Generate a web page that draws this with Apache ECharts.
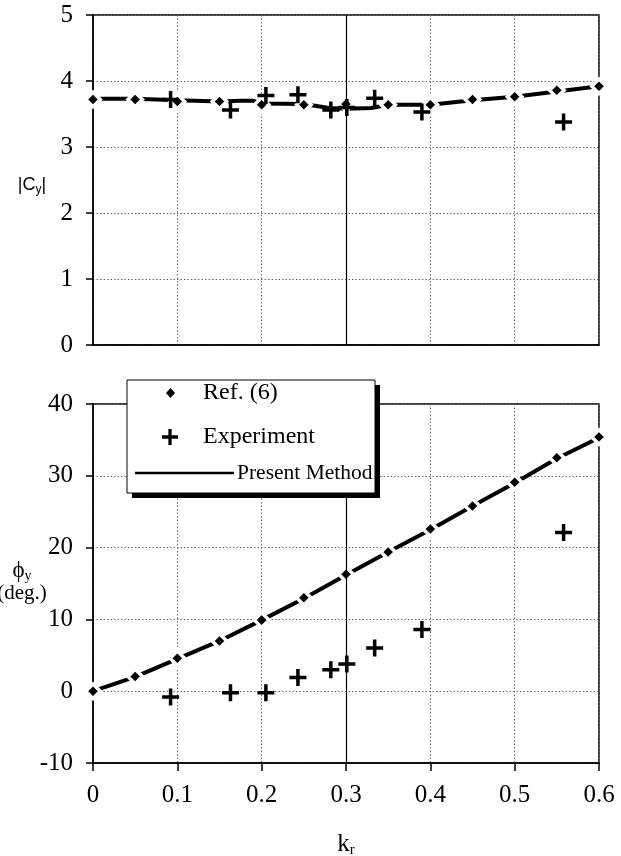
<!DOCTYPE html>
<html><head><meta charset="utf-8">
<script src="https://cdn.jsdelivr.net/npm/echarts@6/dist/echarts.min.js"></script>
<style>html,body{margin:0;padding:0;background:#fff}#c{width:621px;height:856px}</style>
</head><body><div id="c"></div>
<script>
// ---- data ----
const refX    = [0, 0.05, 0.1, 0.15, 0.2, 0.25, 0.3, 0.35, 0.4, 0.45, 0.5, 0.55, 0.6];
const refCy   = [3.72, 3.72, 3.69, 3.69, 3.64, 3.64, 3.65, 3.64, 3.64, 3.72, 3.76, 3.86, 3.92];
const refPhi  = [0, 2.05, 4.6, 7.0, 9.9, 13.0, 16.3, 19.4, 22.6, 25.8, 29.1, 32.5, 35.4];
const expX    = [0.092, 0.163, 0.205, 0.243, 0.282, 0.301, 0.334, 0.39, 0.558];
const expCy   = [3.72, 3.56, 3.78, 3.79, 3.56, 3.60, 3.74, 3.53, 3.38];
const expPhi  = [-0.8, -0.2, -0.2, 1.9, 3.0, 3.8, 6.0, 8.6, 22.1];
const presCyX = [0, 0.05, 0.1, 0.15, 0.175, 0.19, 0.2, 0.25, 0.28, 0.3, 0.33, 0.35, 0.4, 0.45, 0.5, 0.55, 0.6];
const presCy  = [3.73, 3.73, 3.71, 3.69, 3.70, 3.70, 3.66, 3.65, 3.59, 3.58, 3.59, 3.64, 3.64, 3.71, 3.76, 3.84, 3.92];
const presPhiX = [0, 0.05, 0.1, 0.15, 0.2, 0.25, 0.3, 0.35, 0.4, 0.45, 0.5, 0.55, 0.6];
const presPhi  = [0, 2.0, 4.5, 7.0, 9.9, 12.9, 16.2, 19.4, 22.5, 25.8, 29.0, 32.4, 35.3];
const xTickLabels   = ['0', '0.1', '0.2', '0.3', '0.4', '0.5', '0.6'];
const cyTickLabels  = ['0', '1', '2', '3', '4', '5'];
const phiTickLabels = ['-10', '0', '10', '20', '30', '40'];

// ---- chart ----
const serif = '"Liberation Serif", "Times New Roman", serif';
const plusPath = 'path://M6.75,0H10.25V6.75H17V10.25H10.25V17H6.75V10.25H0V6.75H6.75Z';
const pairs = (xs, ys) => xs.map((x, i) => [x, ys[i]]);
const split = { show: true, lineStyle: { color: '#666', type: [1.5, 2], width: 1 } };
const axLine = { onZero: false, lineStyle: { color: '#000', width: 1.5 } };
const tickLab = { fontFamily: serif, fontSize: 25, color: '#000' };

const chart = echarts.init(document.getElementById('c'), null, { renderer: 'canvas' });
const refStyle = { color: '#000', borderColor: '#fff', borderWidth: 3.5, opacity: 1 };
const plusStyle = { color: '#000', opacity: 1 };
const solidMark = { silent: true, symbol: 'none', label: { show: false },
  lineStyle: { color: '#000', type: 'solid', width: 1.2 }, data: [{ xAxis: 0.3 }] };

chart.setOption({
  animation: false,
  backgroundColor: '#fff',
  grid: [
    { left: 93, top: 15, width: 506, height: 330, show: true, borderColor: '#000', borderWidth: 1.5,
      containLabel: false, outerBoundsMode: 'none' },
    { left: 93, top: 404, width: 506, height: 359, show: true, borderColor: '#000', borderWidth: 1.5,
      containLabel: false, outerBoundsMode: 'none' }
  ],
  xAxis: [
    { gridIndex: 0, type: 'value', min: 0, max: 0.6, interval: 0.1, axisLine: axLine,
      axisTick: { show: false }, axisLabel: { show: false }, splitLine: split },
    { gridIndex: 1, type: 'value', min: 0, max: 0.6, interval: 0.1, axisLine: axLine,
      axisTick: { show: true, inside: false, length: 8, lineStyle: { color: '#000', width: 1.5 } },
      axisLabel: Object.assign({ margin: 20, formatter: (v, i) => xTickLabels[i] }, tickLab),
      splitLine: split, nameMoveOverlap: false,
      name: '{k|k}{r|r}', nameLocation: 'middle', nameGap: 68,
      nameTextStyle: { rich: {
        k: { fontFamily: serif, fontSize: 25, color: '#000' },
        r: { fontFamily: serif, fontSize: 15, color: '#000', padding: [12, 0, 0, 0] } } } }
  ],
  yAxis: [
    { gridIndex: 0, type: 'value', min: 0, max: 5, interval: 1, axisLine: axLine,
      axisTick: { show: true, length: 7, lineStyle: { color: '#000', width: 1.5 } },
      axisLabel: Object.assign({ margin: 20, formatter: (v, i) => cyTickLabels[i] }, tickLab),
      splitLine: split, nameMoveOverlap: false,
      name: '{a||C}{s|y}{a||}', nameLocation: 'middle', nameRotate: 0, nameGap: 61,
      nameTextStyle: { align: 'center', padding: [10, 0, 0, 0], rich: {
        a: { fontFamily: '"Liberation Sans", Arial, sans-serif', fontSize: 18, color: '#000' },
        s: { fontFamily: '"Liberation Sans", Arial, sans-serif', fontSize: 12, color: '#000', padding: [9, 0, 0, 0] } } } },
    { gridIndex: 1, type: 'value', min: -10, max: 40, interval: 10, axisLine: axLine,
      axisTick: { show: true, length: 7, lineStyle: { color: '#000', width: 1.5 } },
      axisLabel: Object.assign({ margin: 20, formatter: (v, i) => phiTickLabels[i] }, tickLab),
      splitLine: split, nameMoveOverlap: false,
      name: '{p|ϕ}{s|y}\n{d|(deg.)}', nameLocation: 'middle', nameRotate: 0, nameGap: 71,
      nameTextStyle: { align: 'center', padding: [0, 0, 4, 0], rich: {
        p: { fontFamily: serif, fontSize: 23, color: '#000' },
        s: { fontFamily: serif, fontSize: 14, color: '#000', padding: [10, 0, 0, 0] },
        d: { fontFamily: serif, fontSize: 21, color: '#000' } } } }
  ],
  legend: [
    { data: [{ name: 'Ref. (6)', icon: 'diamond' }], left: 166, top: 381, orient: 'vertical',
      itemWidth: 9, itemHeight: 10, padding: 0, selectedMode: false, z: 60,
      itemStyle: { borderWidth: 0, color: '#000' },
      textStyle: { fontFamily: serif, fontSize: 24, color: '#000', padding: [0, 0, 0, 23] } },
    { data: [{ name: 'Experiment', icon: plusPath }], left: 162, top: 425, orient: 'vertical',
      itemWidth: 16, itemHeight: 16, padding: 0, selectedMode: false, z: 60,
      itemStyle: { borderWidth: 0, color: '#000' },
      textStyle: { fontFamily: serif, fontSize: 24, color: '#000', padding: [0, 0, 0, 20] } },
    { data: [{ name: 'Present Method', icon: 'rect' }], left: 135, top: 462, orient: 'vertical',
      itemWidth: 99, itemHeight: 2.5, padding: 0, selectedMode: false, z: 60,
      itemStyle: { borderWidth: 0, color: '#000' },
      textStyle: { fontFamily: serif, fontSize: 21.5, color: '#000', padding: [0, 0, 0, -2] } }
  ],
  graphic: [
    { type: 'rect', z: 50, shape: { x: 132, y: 385, width: 248, height: 113 }, style: { fill: '#000' } },
    { type: 'rect', z: 51, shape: { x: 127, y: 380, width: 248, height: 113 },
      style: { fill: '#fff', stroke: '#000', lineWidth: 1 } }
  ],
  series: [
    { name: 'Present Method', type: 'line', xAxisIndex: 0, yAxisIndex: 0, z: 2,
      data: pairs(presCyX, presCy), symbol: 'none', lineStyle: { color: '#000', width: 4 },
      markLine: solidMark },
    { name: 'Ref. (6)', type: 'scatter', xAxisIndex: 0, yAxisIndex: 0, z: 3,
      data: pairs(refX, refCy), symbol: 'diamond', symbolSize: 14.5, itemStyle: refStyle },
    { name: 'Experiment', type: 'scatter', xAxisIndex: 0, yAxisIndex: 0, z: 4,
      data: pairs(expX, expCy), symbol: plusPath, symbolSize: 17, itemStyle: plusStyle },
    { name: 'Present Method', type: 'line', xAxisIndex: 1, yAxisIndex: 1, z: 2,
      data: pairs(presPhiX, presPhi), symbol: 'none', lineStyle: { color: '#000', width: 4 },
      markLine: solidMark },
    { name: 'Ref. (6)', type: 'scatter', xAxisIndex: 1, yAxisIndex: 1, z: 3,
      data: pairs(refX, refPhi), symbol: 'diamond', symbolSize: 14.5, itemStyle: refStyle },
    { name: 'Experiment', type: 'scatter', xAxisIndex: 1, yAxisIndex: 1, z: 4,
      data: pairs(expX, expPhi), symbol: plusPath, symbolSize: 17, itemStyle: plusStyle }
  ]
});
</script></body></html>
